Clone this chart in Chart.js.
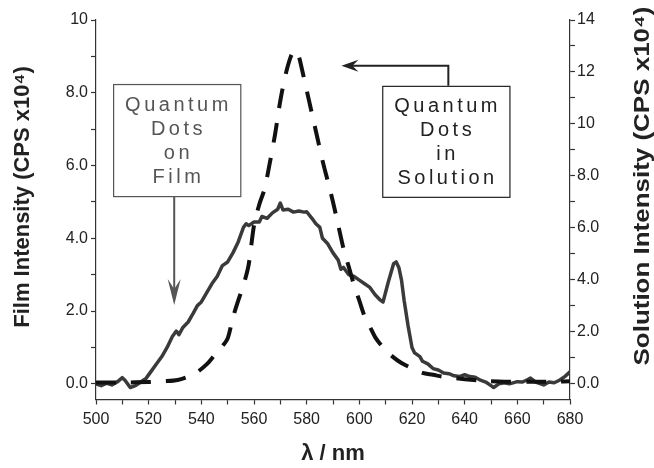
<!DOCTYPE html>
<html>
<head>
<meta charset="utf-8">
<script src="https://cdn.jsdelivr.net/npm/chart.js@4.4.1/dist/chart.umd.min.js"></script>
<style>
html,body{margin:0;padding:0;background:#fff;}
#wrap{width:654px;height:468px;position:relative;}
</style>
</head>
<body>
<div id="wrap"><canvas id="c" width="654" height="468"></canvas></div>
<script>
// ---- Data ----
const filmWavelength = [500,502,504,506,508,510,511,513,515,517,519,521,523,525,527,529,530.5,531.5,533,535,537,538.5,540,542,544,546,548,550,552,554,556,557,558,560,562,563,565,567,569,570,571,573,575,577,579,580,582,583.5,585,586,588,590,592,593,594,596,598,600,602,604,606,608,609,611,613,614,615,616,617,618.5,620,621,623,624,626,628,630,632,634,636,638,640,642,644,646,648,650,651,653,655,657,660,662,664,665,667,670,672,674,676,678,680];
const filmIntensity = [0.0,-0.05,0.02,-0.03,0.05,0.17,0.1,-0.1,-0.05,0.05,0.15,0.35,0.55,0.75,1.0,1.3,1.45,1.35,1.55,1.7,1.95,2.15,2.25,2.5,2.75,2.95,3.25,3.35,3.6,3.9,4.3,4.4,4.35,4.45,4.45,4.6,4.55,4.7,4.8,4.97,4.78,4.8,4.72,4.75,4.72,4.73,4.55,4.4,4.3,4.0,3.85,3.6,3.4,3.15,3.2,3.0,2.95,2.85,2.75,2.65,2.45,2.3,2.25,2.8,3.3,3.35,3.2,2.86,2.3,1.6,1.0,0.85,0.75,0.62,0.55,0.42,0.38,0.3,0.28,0.22,0.2,0.25,0.2,0.18,0.1,0.05,-0.05,-0.1,0.0,0.03,0.0,0.06,0.05,0.12,0.16,0.05,-0.03,0.05,0.03,0.1,0.2,0.33];

const solutionWavelength = [500,510,520,526,531,535,538,542,545,548,550,552,554,556,558,560,562,564,566,568,570,572,574,575.5,577,578,580,582,584,586,588,590,592,594,596,598,600,602,604,606,609,612,616,620,624,628,632,640,647,655,665,675,680];
const solutionIntensity = [0.05,0.05,0.07,0.1,0.15,0.28,0.42,0.75,1.1,1.45,1.75,2.55,3.2,3.8,4.6,6.1,6.9,7.5,8.5,9.6,10.9,11.9,12.6,12.85,12.6,12.2,11.3,10.4,9.5,8.6,7.8,7.0,6.1,5.2,4.5,3.8,3.2,2.6,2.2,1.8,1.4,1.1,0.8,0.6,0.42,0.35,0.27,0.18,0.12,0.08,0.08,0.09,0.1];

const xTickValues = [500,510,520,530,540,550,560,570,580,590,600,610,620,630,640,650,660,670,680];
const xTickLabels = ['500','','520','','540','','560','','580','','600','','620','','640','','660','','680'];
const leftTickValues = [0,1,2,3,4,5,6,7,8,9,10];
const leftTickLabels = ['0.0','','2.0','','4.0','','6.0','','8.0','','10'];
const rightTickValues = [0,1,2,3,4,5,6,7,8,9,10,11,12,13,14];
const rightTickLabels = ['0.0','','2.0','','4.0','','6.0','','8.0','','10','','12','','14'];

const filmLabel = ['Quantum','Dots','on','Film'];
const solutionLabel = ['Quantum','Dots','in','Solution'];
const leftTitle = 'Film Intensity (CPS x10\u2074)';
const rightTitle = 'Solution Intensity (CPS x10\u2074)';
const xTitle = '\u03bb / nm';

// ---- Annotation placement (in data units) ----
const notes = [
  {lines: filmLabel, x0: 506.5, x1: 554.8, yTop: 8.24, yBot: 5.16, color: '#555',
   arrow: {type: 'down', x: 529.7, to: 2.17}},
  {lines: solutionLabel, x0: 608.7, x1: 657.0, yTop: 8.19, yBot: 5.14, color: '#222',
   arrow: {type: 'elbow', x: 633.8, y: 8.74, to: 593.2}}
];

const pts = (xs, ys) => xs.map((x, i) => ({x: x, y: ys[i]}));

const axisColor = '#333';
const fam = '"Liberation Sans", Arial, sans-serif';
const tickFont = {family: 'Liberation Sans, Arial, sans-serif', size: 16};

function drawVTitle(ctx, text, x, y, size, stretch) {
  ctx.save();
  ctx.translate(x, y);
  ctx.rotate(-Math.PI / 2);
  ctx.scale(stretch, 1);
  ctx.fillStyle = '#222';
  ctx.font = 'bold ' + size + 'px ' + fam;
  ctx.textAlign = 'center';
  ctx.textBaseline = 'middle';
  ctx.fillText(text, 0, 0);
  ctx.restore();
}

const annotPlugin = {
  id: 'annot',
  afterDatasetsDraw(chart) {
    const ctx = chart.ctx;
    const xs = chart.scales.x, ys = chart.scales.y;
    ctx.save();
    notes.forEach(n => {
      const L = xs.getPixelForValue(n.x0), R = xs.getPixelForValue(n.x1);
      const T = ys.getPixelForValue(n.yTop), B = ys.getPixelForValue(n.yBot);
      ctx.fillStyle = '#fff';
      ctx.fillRect(L, T, R - L, B - T);
      ctx.strokeStyle = n.color;
      ctx.lineWidth = 1.2;
      ctx.strokeRect(L + 0.5, T + 0.5, R - L, B - T);
      ctx.fillStyle = n.color;
      ctx.font = '20px ' + fam;
      ctx.letterSpacing = '3.5px';
      ctx.textAlign = 'center';
      ctx.textBaseline = 'middle';
      const cx = (L + R) / 2 + 1.75, cy = (T + B) / 2 + 1;
      n.lines.forEach((s, i) => ctx.fillText(s, cx, cy + (i - 1.5) * 24));
      ctx.letterSpacing = '0px';
      ctx.lineWidth = 2;
      ctx.strokeStyle = n.color;
      if (n.arrow.type === 'down') {
        const ax = xs.getPixelForValue(n.arrow.x);
        const tip = ys.getPixelForValue(n.arrow.to);
        ctx.beginPath(); ctx.moveTo(ax, B); ctx.lineTo(ax, tip - 8); ctx.stroke();
        ctx.beginPath();
        ctx.moveTo(ax, tip); ctx.lineTo(ax - 6.5, tip - 26); ctx.lineTo(ax, tip - 16); ctx.lineTo(ax + 6.5, tip - 26);
        ctx.closePath(); ctx.fill();
      } else {
        const ax = xs.getPixelForValue(n.arrow.x);
        const ay = ys.getPixelForValue(n.arrow.y);
        const tip = xs.getPixelForValue(n.arrow.to);
        ctx.beginPath(); ctx.moveTo(ax, T); ctx.lineTo(ax, ay); ctx.lineTo(tip + 6, ay); ctx.stroke();
        ctx.beginPath();
        ctx.moveTo(tip, ay); ctx.lineTo(tip + 17, ay - 6); ctx.lineTo(tip + 11, ay); ctx.lineTo(tip + 17, ay + 6);
        ctx.closePath(); ctx.fill();
      }
    });
    // axis titles (both read bottom-to-top)
    drawVTitle(ctx, leftTitle, 23, 197, 22, 1.0);
    drawVTitle(ctx, rightTitle, 643, 186, 22, 1.18);
    ctx.restore();
  }
};

new Chart(document.getElementById('c'), {
  type: 'line',
  data: {
    datasets: [
      {label: 'Quantum Dots in Solution', data: pts(solutionWavelength, solutionIntensity), yAxisID: 'y2',
       borderColor: '#111', borderWidth: 4, borderDash: [20, 15], pointRadius: 0, tension: 0.3, fill: false},
      {label: 'Quantum Dots on Film', data: pts(filmWavelength, filmIntensity), yAxisID: 'y',
       borderColor: '#3a3a3a', borderWidth: 3.5, pointRadius: 0, tension: 0, fill: false, borderJoinStyle: 'round'}
    ]
  },
  options: {
    responsive: false,
    animation: false,
    devicePixelRatio: 1,
    layout: {padding: {top: 20, left: 0, right: 0, bottom: 0}},
    plugins: {legend: {display: false}, tooltip: {enabled: false}},
    scales: {
      x: {
        type: 'linear', position: 'bottom', min: 500, max: 680,
        afterBuildTicks: s => { s.ticks = xTickValues.map(v => ({value: v})); },
        afterFit: s => { s.height = 68.5; },
        ticks: {autoSkip: false, maxRotation: 0, color: '#222', font: tickFont, padding: 5,
          callback: (v, i) => xTickLabels[i]},
        grid: {drawOnChartArea: false, drawTicks: true, tickLength: 5, tickColor: axisColor, tickWidth: 1.2},
        border: {display: true, color: axisColor, width: 1.2},
        title: {display: true, text: xTitle, color: '#222',
          font: {family: 'Liberation Sans, Arial, sans-serif', size: 22, weight: 'bold'}, padding: {top: 0, bottom: 1}}
      },
      y: {
        type: 'linear', position: 'left', min: -0.43, max: 10,
        afterBuildTicks: s => { s.ticks = leftTickValues.map(v => ({value: v})); },
        afterFit: s => { s.width = 96; },
        ticks: {autoSkip: false, color: '#222', font: tickFont, padding: 3,
          callback: (v, i) => leftTickLabels[i]},
        grid: {drawOnChartArea: false, drawTicks: true, tickLength: 5, tickColor: axisColor, tickWidth: 1.2},
        border: {display: true, color: axisColor, width: 1.2}
      },
      y2: {
        type: 'linear', position: 'right', min: -0.602, max: 14,
        afterBuildTicks: s => { s.ticks = rightTickValues.map(v => ({value: v})); },
        afterFit: s => { s.width = 84; },
        ticks: {autoSkip: false, color: '#222', font: tickFont, padding: 2,
          callback: (v, i) => rightTickLabels[i]},
        grid: {drawOnChartArea: false, drawTicks: true, tickLength: 5, tickColor: axisColor, tickWidth: 1.2},
        border: {display: true, color: axisColor, width: 1.2}
      }
    }
  },
  plugins: [annotPlugin]
});
</script>
</body>
</html>
